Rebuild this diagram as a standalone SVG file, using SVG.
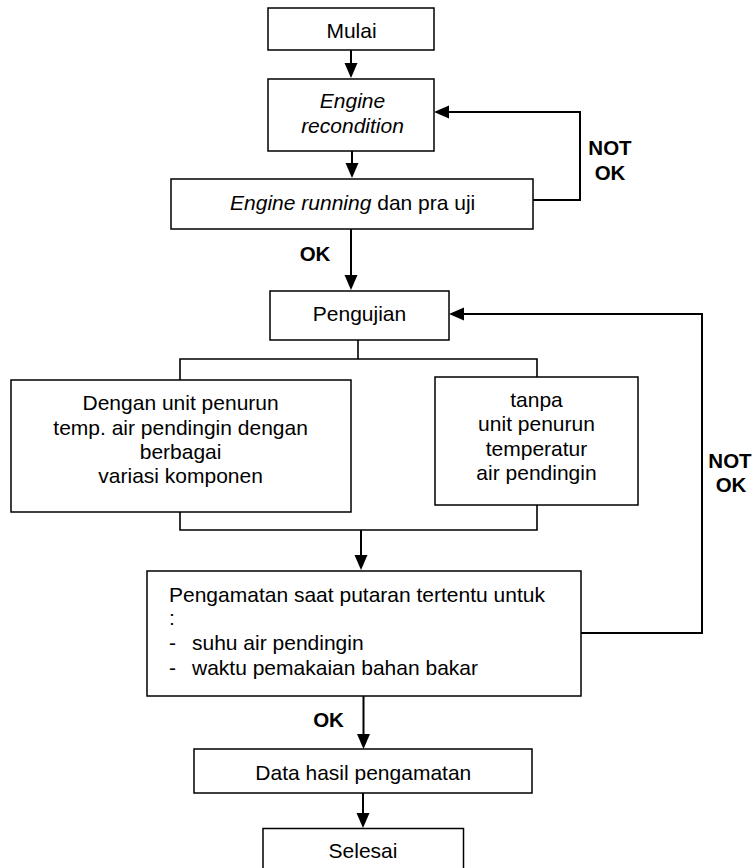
<svg xmlns="http://www.w3.org/2000/svg" width="753" height="868" viewBox="0 0 753 868">
<style>
.box{fill:#fff;stroke:#000;stroke-width:1.5}
.t{font-family:"Liberation Sans",Arial,sans-serif;font-size:21px;fill:#000}
.c{text-anchor:middle}
.b{font-family:"Liberation Sans",Arial,sans-serif;font-size:20.5px;font-weight:bold;fill:#000;text-anchor:middle}
.ln{fill:none;stroke:#000;stroke-width:2}
.ln1{fill:none;stroke:#000;stroke-width:1.6}
.ar{marker-end:url(#ah)}
</style>
<defs>
<marker id="ah" markerUnits="userSpaceOnUse" markerWidth="16" markerHeight="14" refX="10" refY="6.5" orient="auto">
<path d="M0,0 L15,6.5 L0,13 z" fill="#000"/>
</marker>
</defs>
<rect width="753" height="868" fill="#fff"/>
<g id="connectors">
<path class="ln ar" d="M351,50 V73"/>
<path class="ln ar" d="M352,151 V173"/>
<path class="ln ar" d="M533,200 H580 V112 H439"/>
<path class="ln ar" d="M351,229 V285"/>
<path class="ln1" d="M358,340 V359 M180,380 V359 H537 V377"/>
<path class="ln1" d="M180,512 V530 H537 V505"/>
<path class="ln ar" d="M361,530 V565"/>
<path class="ln ar" d="M581,633 H702 V314 H454"/>
<path class="ln ar" d="M363.5,696 V744"/>
<path class="ln ar" d="M363,793 V823"/>
<text class="b" x="610" y="155">NOT</text>
<text class="b" x="610" y="180">OK</text>
<text class="b" x="315" y="261">OK</text>
<text class="b" x="730" y="468">NOT</text>
<text class="b" x="731" y="492">OK</text>
<text class="b" x="328.5" y="727">OK</text>
</g>
<g id="mulai">
<rect class="box" x="268" y="8" width="166" height="42"/>
<text class="t c" x="351.5" y="37.5">Mulai</text>
</g>
<g id="engine-recondition">
<rect class="box" x="268" y="79" width="166" height="72"/>
<text class="t c" x="352.5" y="108" font-style="italic">Engine</text>
<text class="t c" x="352.5" y="133" font-style="italic">recondition</text>
</g>
<g id="engine-running">
<rect class="box" x="171" y="179" width="362" height="50"/>
<text class="t c" x="352.7" y="210"><tspan font-style="italic">Engine running</tspan> dan pra uji</text>
</g>
<g id="pengujian">
<rect class="box" x="270" y="291" width="179" height="49"/>
<text class="t c" x="359.5" y="321">Pengujian</text>
</g>
<g id="dengan-unit">
<rect class="box" x="11" y="380" width="340" height="132"/>
<text class="t c" x="180.6" y="410">Dengan unit penurun</text>
<text class="t c" x="180.6" y="434.5">temp. air pendingin dengan</text>
<text class="t c" x="180.6" y="458.5">berbagai</text>
<text class="t c" x="180.6" y="482.5">variasi komponen</text>
</g>
<g id="tanpa-unit">
<rect class="box" x="435" y="377" width="203" height="128"/>
<text class="t c" x="536.5" y="406.5">tanpa</text>
<text class="t c" x="536.5" y="431">unit penurun</text>
<text class="t c" x="536.5" y="455.5">temperatur</text>
<text class="t c" x="536.5" y="480">air pendingin</text>
</g>
<g id="pengamatan">
<rect class="box" x="147" y="571" width="434" height="125"/>
<text class="t" x="169" y="601.5">Pengamatan saat putaran tertentu untuk</text>
<text class="t" x="169" y="625">:</text>
<text class="t" x="169" y="650">-</text>
<text class="t" x="192" y="650">suhu air pendingin</text>
<text class="t" x="169" y="675">-</text>
<text class="t" x="192" y="675">waktu pemakaian bahan bakar</text>
</g>
<g id="data-hasil">
<rect class="box" x="194" y="749" width="338" height="44"/>
<text class="t c" x="363.3" y="780">Data hasil pengamatan</text>
</g>
<g id="selesai">
<rect class="box" x="263" y="828.5" width="200.5" height="50"/>
<text class="t c" x="363" y="858">Selesai</text>
</g>
</svg>
